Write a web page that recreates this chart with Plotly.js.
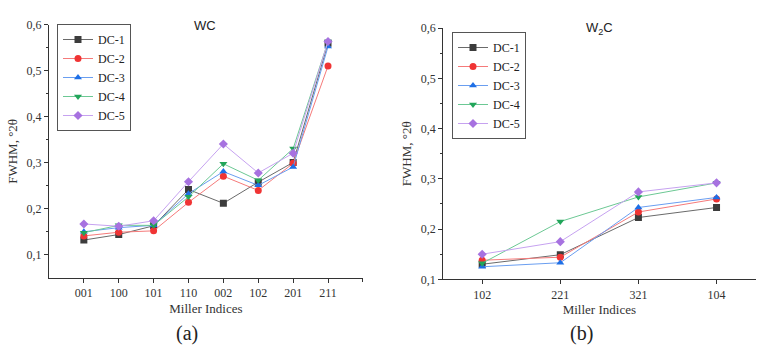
<!DOCTYPE html>
<html>
<head>
<meta charset="utf-8">
<script src="https://cdn.plot.ly/plotly-3.0.1.min.js"></script>
<style>
  html, body { margin: 0; padding: 0; background: #fff; }
  #plotDiv { width: 764px; height: 352px; }
</style>
</head>
<body>
<div id="plotDiv"></div>
<script>
// (a) WC
var wcPlanes = ['001', '100', '101', '110', '002', '102', '201', '211'];
var wcDC1 = [0.132, 0.144, 0.163, 0.242, 0.212, 0.258, 0.301, 0.560];
var wcDC2 = [0.141, 0.149, 0.152, 0.214, 0.271, 0.240, 0.299, 0.511];
var wcDC3 = [0.150, 0.159, 0.164, 0.233, 0.281, 0.251, 0.291, 0.553];
var wcDC4 = [0.148, 0.164, 0.164, 0.226, 0.298, 0.262, 0.331, 0.564];
var wcDC5 = [0.167, 0.162, 0.174, 0.259, 0.341, 0.278, 0.321, 0.564];

// (b) W2C
var w2cPlanes = ['102', '221', '321', '104'];
var w2cDC1 = [0.130, 0.149, 0.223, 0.243];
var w2cDC2 = [0.138, 0.144, 0.234, 0.260];
var w2cDC3 = [0.125, 0.133, 0.243, 0.263];
var w2cDC4 = [0.132, 0.215, 0.264, 0.292];
var w2cDC5 = [0.150, 0.175, 0.274, 0.292];

var names = ['DC-1', 'DC-2', 'DC-3', 'DC-4', 'DC-5'];
var markerColors = ['#3c3c3c', '#f03434', '#1e6fe6', '#22a55a', '#a772e0'];
var lineColors = ['#6a6a6a', '#f57a7a', '#6a9ef0', '#6cc894', '#c6a2f0'];
var symbols = ['square', 'circle', 'triangle-up', 'triangle-down', 'diamond'];

var wcSeries = [wcDC1, wcDC2, wcDC3, wcDC4, wcDC5];
var w2cSeries = [w2cDC1, w2cDC2, w2cDC3, w2cDC4, w2cDC5];

var serif = 'Liberation Serif';
var sans = 'Liberation Sans';

var plotData = [];
for (let i = 0; i < 5; i++) {
  plotData.push({
    type: 'scatter', mode: 'lines+markers',
    x: wcPlanes, y: wcSeries[i], name: names[i],
    xaxis: 'x', yaxis: 'y', legend: 'legend',
    line: {color: lineColors[i], width: 1},
    marker: {color: markerColors[i], symbol: symbols[i], size: 7}
  });
}
for (let i = 0; i < 5; i++) {
  plotData.push({
    type: 'scatter', mode: 'lines+markers',
    x: w2cPlanes, y: w2cSeries[i], name: names[i],
    xaxis: 'x2', yaxis: 'y2', legend: 'legend2',
    line: {color: lineColors[i], width: 1},
    marker: {color: markerColors[i], symbol: symbols[i], size: 7}
  });
}

function xAxis(dom, rng, anchor) {
  return {
    domain: dom, anchor: anchor, type: 'category', range: rng,
    showline: true, linecolor: '#333', linewidth: 1, mirror: false,
    showgrid: false, zeroline: false,
    ticks: 'outside', ticklen: 4, tickcolor: '#333',
    minor: {dtick: 0.5, ticks: 'outside', ticklen: 3, tickcolor: '#333', showgrid: false},
    tickfont: {family: serif, size: 12, color: '#333'},
    title: {text: 'Miller Indices', font: {family: serif, size: 13, color: '#333'}, standoff: 4}
  };
}
function yAxis(dom, rng, anchor) {
  return {
    domain: dom, anchor: anchor, range: rng,
    tickvals: [0.1, 0.2, 0.3, 0.4, 0.5, 0.6], tickformat: '.1f',
    showline: true, linecolor: '#333', linewidth: 1, mirror: false,
    showgrid: false, zeroline: false,
    ticks: 'outside', ticklen: 4, tickcolor: '#333',
    minor: {tickvals: [0.15, 0.25, 0.35, 0.45, 0.55], ticks: 'outside', ticklen: 2, tickcolor: '#333', showgrid: false},
    tickfont: {family: serif, size: 12, color: '#333'},
    title: {text: 'FWHM, °2θ', font: {family: serif, size: 13, color: '#333'}, standoff: 6}
  };
}

function legendBox(x, y) {
  return {
    x: x, y: y, xanchor: 'left', yanchor: 'top',
    bgcolor: '#fff', bordercolor: '#555', borderwidth: 1,
    font: {family: serif, size: 12, color: '#222'},
    itemwidth: 30, tracegroupgap: 0
  };
}

var layout = {
  width: 764, height: 352,
  margin: {l: 0, r: 0, t: 0, b: 0},
  paper_bgcolor: '#fff', plot_bgcolor: '#fff',
  separators: ', ',
  showlegend: true,
  xaxis: xAxis([0.0641, 0.475], [-1, 8], 'y'),
  yaxis: yAxis([0.211, 0.929], [0.05, 0.6], 'x'),
  xaxis2: xAxis([0.580, 0.989], [-0.5, 3.5], 'y2'),
  yaxis2: yAxis([0.2065, 0.920], [0.1, 0.6], 'x2'),
  legend: legendBox(57 / 764, 1 - 24 / 352),
  legend2: legendBox(452 / 764, 1 - 32 / 352),
  annotations: [
    {text: 'WC', xref: 'paper', yref: 'paper', x: 205 / 764, y: 1 - 25 / 352,
     xanchor: 'center', yanchor: 'middle',
     showarrow: false, font: {family: sans, size: 13, color: '#222'}},
    {text: 'W<sub>2</sub>C', xref: 'paper', yref: 'paper', x: 599 / 764, y: 1 - 28 / 352,
     xanchor: 'center', yanchor: 'middle',
     showarrow: false, font: {family: sans, size: 13, color: '#222'}},
    {text: '(a)', xref: 'paper', yref: 'paper', x: 187 / 764, y: 1 - 333 / 352,
     xanchor: 'center', yanchor: 'middle',
     showarrow: false, font: {family: serif, size: 20, color: '#222'}},
    {text: '(b)', xref: 'paper', yref: 'paper', x: 581 / 764, y: 1 - 333 / 352,
     xanchor: 'center', yanchor: 'middle',
     showarrow: false, font: {family: serif, size: 20, color: '#222'}}
  ]
};

Plotly.newPlot('plotDiv', plotData, layout, {displayModeBar: false, staticPlot: true});
</script>
</body>
</html>
